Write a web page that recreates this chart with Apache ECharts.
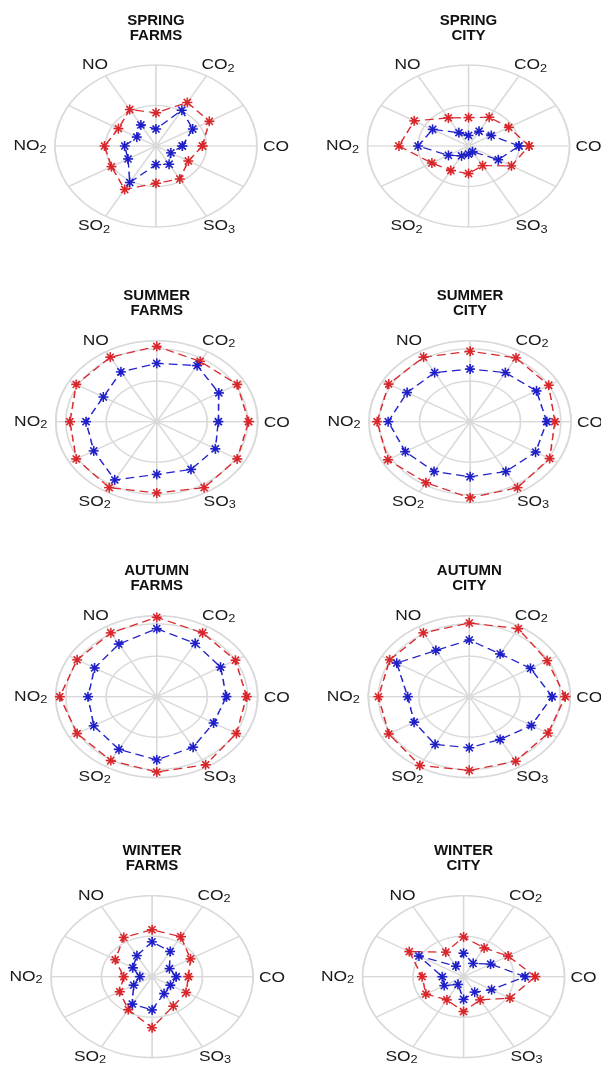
<!DOCTYPE html>
<html><head><meta charset="utf-8">
<script src="https://cdn.jsdelivr.net/npm/echarts@6/dist/echarts.min.js"></script>
<style>
html,body{margin:0;padding:0;background:#fff;width:601px;height:1069px;overflow:hidden;}
#base{position:absolute;left:0;top:0;height:1069px;transform-origin:0 0;}
#text{position:absolute;left:0;top:0;width:601px;height:1069px;pointer-events:none;}
</style></head>
<body><div id="base"></div><div id="text"></div>
<script>
// ---------- data ----------
const angles = [0, 30, 60, 90, 120, 150, 180, 210, 240, 270, 300, 330];
const panelTitles = ['SPRING\nFARMS', 'SPRING\nCITY', 'SUMMER\nFARMS', 'SUMMER\nCITY',
                     'AUTUMN\nFARMS', 'AUTUMN\nCITY', 'WINTER\nFARMS', 'WINTER\nCITY'];
const gasNames = ['CO', 'CO', 'NO', 'NO', 'SO', 'SO'];
const gasSubs  = ['', '2', '', '2', '2', '3'];
const gasAngles = [0, 60, 120, 180, 240, 300];

const springFarmsRed  = [4.6, 6.1, 6.2, 4.1, 5.2, 4.3, 5.1, 5.1, 6.2, 4.6, 4.7, 3.7];
const springFarmsBlue = [2.6, 4.2, 5.1, 2.1, 3.0, 2.2, 3.1, 3.2, 5.2, 2.3, 2.6, 1.7];
const springCityRed   = [6.0, 4.6, 4.1, 3.5, 4.0, 6.2, 6.9, 4.2, 3.5, 3.4, 2.8, 4.9];
const springCityBlue  = [5.0, 2.6, 2.1, 1.3, 1.9, 4.1, 5.0, 2.3, 1.4, 1.0, 0.8, 3.4];
const summerFarmsRed  = [9.1, 9.2, 8.6, 9.3, 9.2, 9.2, 8.6, 9.2, 9.4, 8.8, 9.4, 9.2];
const summerFarmsBlue = [6.1, 7.1, 8.0, 7.2, 7.1, 6.1, 7.0, 7.2, 8.3, 6.5, 6.8, 6.7];
const summerCityRed   = [8.4, 9.0, 9.1, 8.7, 9.2, 9.3, 9.2, 9.4, 8.7, 9.4, 9.4, 9.1];
const summerCityBlue  = [7.6, 7.6, 7.0, 6.5, 7.0, 7.2, 8.1, 7.4, 7.1, 6.8, 7.1, 7.5];
const autumnFarmsRed  = [8.9, 9.0, 9.1, 9.8, 9.1, 9.1, 9.6, 9.1, 9.1, 9.3, 9.7, 9.1];
const autumnFarmsBlue = [6.9, 7.3, 7.6, 8.4, 7.5, 7.1, 6.8, 7.2, 7.5, 7.8, 7.2, 6.5];
const autumnCityRed   = [9.5, 8.9, 9.7, 9.1, 9.1, 9.1, 9.0, 9.2, 9.8, 9.1, 9.2, 9.0];
const autumnCityBlue  = [8.2, 7.0, 6.1, 7.0, 6.6, 8.3, 6.1, 6.3, 6.8, 6.3, 6.1, 7.1];
const winterFarmsRed  = [3.6, 4.4, 5.7, 5.8, 5.6, 4.2, 2.8, 3.7, 4.7, 6.3, 4.2, 3.9];
const winterFarmsBlue = [2.4, 2.0, 3.6, 4.3, 3.0, 2.2, 1.2, 2.1, 3.9, 4.1, 2.4, 2.1];
const winterCityRed   = [7.1, 5.1, 4.1, 4.9, 3.5, 6.2, 4.1, 4.3, 3.3, 4.3, 3.3, 5.3];
const winterCityBlue  = [6.1, 3.1, 1.9, 2.9, 1.5, 5.1, 2.1, 2.2, 1.1, 2.8, 2.2, 3.2];

const redSeries  = [springFarmsRed, springCityRed, summerFarmsRed, summerCityRed,
                    autumnFarmsRed, autumnCityRed, winterFarmsRed, winterCityRed];
const blueSeries = [springFarmsBlue, springCityBlue, summerFarmsBlue, summerCityBlue,
                    autumnFarmsBlue, autumnCityBlue, winterFarmsBlue, winterCityBlue];

// ---------- layout ----------
const SX = 1.247;          // horizontal stretch of the polar plots (ellipses)
const R = 81;              // vertical radius of outer ring in px
const centers = [[156, 146], [468.5, 146], [156.7, 421.7], [470, 421.7],
                 [156.7, 696.7], [469.3, 696.7], [152, 976.7], [463.5, 976.7]];
const extraRing = [false, false, true, true, true, true, false, false];
const RED = '#d8262b', BLUE = '#1f1fc8', GRID = '#d9d9d9';
const STAR = 'path://M0,-10L0,10M-10,0L10,0M-7.07,-7.07L7.07,7.07M-7.07,7.07L7.07,-7.07';
const labelOffsets = {0: [120, 1], 60: [62, -81], 120: [-61, -81], 180: [-126, 0], 240: [-62, 80], 300: [63, 80]};

const baseW = 601 / SX;
const baseEl = document.getElementById('base');
baseEl.style.width = baseW + 'px';
baseEl.style.transform = 'scaleX(' + SX + ')';

const polar = [], angleAxis = [], radiusAxis = [], series = [];
const gridLine = {lineStyle: {color: GRID, width: 1.3}};

centers.forEach(function (c, p) {
  polar.push({center: [c[0] / SX, c[1]], radius: R});
  angleAxis.push({
    polarIndex: p, type: 'value', min: 0, max: 360, interval: 30,
    startAngle: 0, clockwise: false,
    axisLine: {show: true, lineStyle: {color: GRID, width: 1.3}},
    axisTick: {show: false}, axisLabel: {show: false},
    splitLine: gridLine
  });
  radiusAxis.push({
    polarIndex: p, type: 'value', min: 0, max: 10, interval: 5,
    axisLine: {show: false}, axisTick: {show: false}, axisLabel: {show: false},
    splitLine: gridLine
  });
});
// extra ring near the edge for summer/autumn panels
centers.forEach(function (c, p) {
  if (!extraRing[p]) return;
  const idx = polar.length;
  polar.push({center: [c[0] / SX, c[1]], radius: R});
  angleAxis.push({polarIndex: idx, type: 'value', min: 0, max: 360, show: false});
  radiusAxis.push({
    polarIndex: idx, type: 'value', min: 0, max: 10, interval: 9,
    axisLine: {show: false}, axisTick: {show: false}, axisLabel: {show: false},
    splitLine: gridLine
  });
});

function toPolarData(vals) {
  const d = vals.map(function (v, i) { return [v, angles[i]]; });
  d.push([vals[0], 360]);
  return d;
}
function mkSeries(vals, p, color) {
  return {
    type: 'line', coordinateSystem: 'polar', polarIndex: p,
    data: toPolarData(vals),
    symbol: STAR, symbolSize: [10 / SX, 10],
    lineStyle: {color: color, width: 1.2, type: [7, 4]},
    itemStyle: {color: color, borderColor: color, borderWidth: 1.4},
    silent: true, z: 3
  };
}
for (let p = 0; p < 8; p++) {
  series.push(mkSeries(redSeries[p], p, RED));
  series.push(mkSeries(blueSeries[p], p, BLUE));
}

const base = echarts.init(baseEl, null, {devicePixelRatio: 2});
base.setOption({
  animation: false, backgroundColor: '#fff',
  polar: polar, angleAxis: angleAxis, radiusAxis: radiusAxis, series: series
});

// ---------- text layer ----------
const titles = panelTitles.map(function (t, p) {
  return {
    text: t, left: centers[p][0], top: centers[p][1] - 133, textAlign: 'center', padding: 0,
    textStyle: {fontFamily: 'Liberation Sans', fontSize: 15, fontWeight: 'bold', lineHeight: 15, color: '#111'}
  };
});
const graphics = [];
centers.forEach(function (c) {
  gasAngles.forEach(function (a, k) {
    const off = labelOffsets[a];
    const txt = '{a|' + gasNames[k] + '}' + (gasSubs[k] ? '{s|' + gasSubs[k] + '}' : '');
    graphics.push({
      type: 'text', x: c[0] + off[0], y: c[1] + off[1], scaleX: 1.16, silent: true,
      style: {
        text: txt, align: 'center', verticalAlign: 'middle',
        rich: {
          a: {fontFamily: 'Liberation Sans', fontSize: 15, fill: '#1a1a1a', color: '#1a1a1a'},
          s: {fontFamily: 'Liberation Sans', fontSize: 11, fill: '#1a1a1a', color: '#1a1a1a', padding: [7, 0, 0, 0]}
        }
      }
    });
  });
});
const textChart = echarts.init(document.getElementById('text'));
textChart.setOption({animation: false, title: titles, graphic: graphics});
</script>
</body></html>
